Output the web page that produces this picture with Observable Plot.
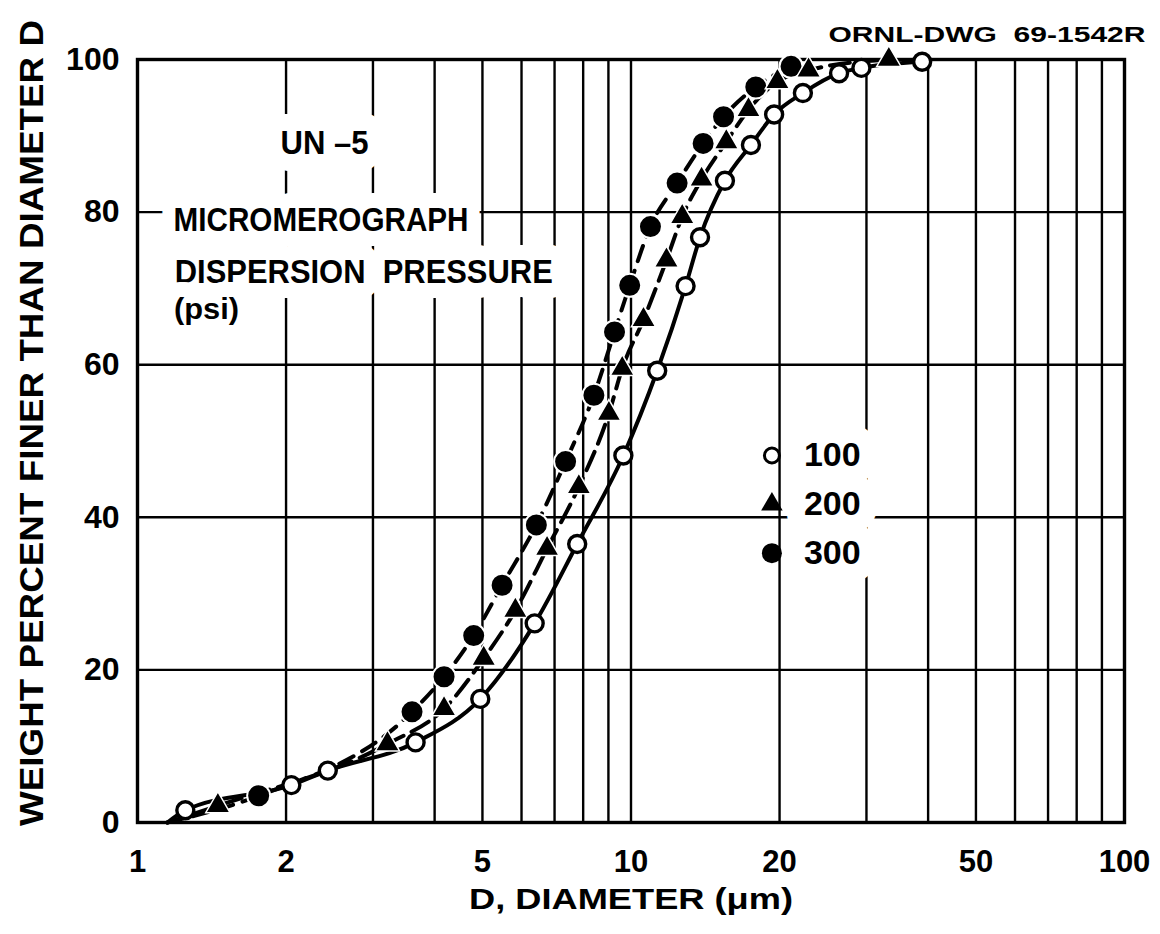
<!DOCTYPE html>
<html><head><meta charset="utf-8">
<script src="https://cdn.jsdelivr.net/npm/d3@7"></script>
<script src="https://cdn.jsdelivr.net/npm/@observablehq/plot@0.6"></script>
<style>html,body{margin:0;padding:0;background:#fff}</style>
</head><body><div id="chart"></div>
<script>
// ---- data ----
const diam100 = [1.25, 2.05, 2.43, 3.66, 4.95, 6.38, 7.78, 9.65, 11.3, 12.9, 13.8, 15.5, 17.5, 19.5, 22.3, 26.4, 29.3, 38.9];
const pct100  = [1.6, 4.9, 6.8, 10.5, 16.2, 26.1, 36.5, 48.1, 59.2, 70.3, 76.7, 84.1, 88.8, 92.8, 95.6, 98.2, 98.9, 99.7];
const diam200 = [1.455, 3.21, 4.18, 5.03, 5.83, 6.76, 7.84, 9.02, 9.6, 10.6, 11.8, 12.7, 13.9, 15.6, 17.3, 19.8, 22.9, 33.3];
const pct200  = [2.2, 10.3, 14.9, 21.5, 27.8, 35.9, 44.0, 53.6, 59.5, 65.9, 73.7, 79.4, 84.3, 89.2, 93.4, 97.1, 98.6, 100];
const diam300 = [1.76, 3.60, 4.18, 4.80, 5.48, 6.43, 7.37, 8.41, 9.26, 9.94, 10.95, 12.4, 14.0, 15.4, 17.9, 21.1];
const pct300  = [3.5, 14.5, 19.1, 24.5, 31.1, 39.0, 47.3, 56.0, 64.3, 70.4, 78.1, 83.8, 89.0, 92.5, 96.4, 99.1];
const curveOrigin = {d: 1.15, p: 0};

const xGridValues = [1,2,3,4,5,6,7,8,9,10,20,30,40,50,60,70,80,90,100];
const yGridValues = [0,20,40,60,80,100];
const xTickLabels = [1,2,5,10,20,50,100];
const yTickLabels = [0,20,40,60,80,100];
const legendLabels = ["100","200","300"];

const xTitle = "D, DIAMETER (\u03bcm)";
const yTitle = "WEIGHT PERCENT FINER THAN DIAMETER D";
const drawingNo = "ORNL-DWG  69-1542R";
const noteSample = "UN \u20135";
const noteLines = ["MICROMEROGRAPH", "DISPERSION  PRESSURE", "(psi)"];

// ---- tables ----
const toRows = (ds, ps) => ds.map((d, i) => ({d, p: ps[i]}));
const s100 = toRows(diam100, pct100);
const s200 = toRows(diam200, pct200);
const s300 = toRows(diam300, pct300);
const legendRows = legendLabels.map((label, i) => ({label, i}));

const FONT = "Liberation Sans, Arial, sans-serif";
const halo = {stroke: "white", paintOrder: "stroke", strokeLinejoin: "round", fill: "black", fontWeight: "bold"};

const legendX = 19.3;
const legendY = i => 48.1 - 6.4 * i;

const chart = Plot.plot({
  width: 1160, height: 934,
  marginLeft: 137, marginRight: 36, marginTop: 59, marginBottom: 112,
  x: {type: "log", domain: [1, 100], axis: null},
  y: {domain: [0, 100], axis: null},
  style: {fontFamily: FONT, background: "#fff", color: "#000", overflow: "visible"},
  marks: [
    Plot.ruleX(xGridValues, {stroke: "#000", strokeWidth: 2.4}),
    Plot.ruleY(yGridValues, {stroke: "#000", strokeWidth: 2.4}),
    Plot.frame({stroke: "#000", strokeWidth: 3.4}),

    // annotations (white halo breaks grid lines like the original lettering boxes)
    Plot.text([noteSample], {x: 1.949, y: 89.1, text: d => d, textAnchor: "start", fontSize: 34, className: "t-un5", ...halo, strokeWidth: 34}),
    Plot.text([noteLines[0]], {x: 1.183, y: 78.9, text: d => d, textAnchor: "start", fontSize: 34, className: "t-micro", ...halo, strokeWidth: 30}),
    Plot.text([noteLines[1]], {x: 1.19, y: 72.1, text: d => d, textAnchor: "start", fontSize: 34, className: "t-disp", ...halo, strokeWidth: 30}),
    Plot.text([noteLines[2]], {x: 1.186, y: 67.2, text: d => d, textAnchor: "start", fontSize: 30, className: "t-psi", ...halo, strokeWidth: 30}),

    // legend
    Plot.text(legendRows, {x: legendX, y: d => legendY(d.i), text: d => d.label, textAnchor: "start", dx: 32, fontSize: 34, ...halo, strokeWidth: 36}),
    Plot.dot([legendRows[0]], {x: legendX, y: d => legendY(d.i), r: 7.5, fill: "white", stroke: "black", strokeWidth: 3}),
    Plot.dot([legendRows[1]], {x: legendX, y: d => legendY(d.i), r: 8, symbol: "triangle", fill: "black"}),
    Plot.dot([legendRows[2]], {x: legendX, y: d => legendY(d.i), r: 10, fill: "black"}),

    // curves
    Plot.line([curveOrigin, ...s100], {x: "d", y: "p", curve: "monotone-x", stroke: "black", strokeWidth: 4}),
    Plot.line([curveOrigin, ...s200], {x: "d", y: "p", curve: "monotone-x", stroke: "black", strokeWidth: 4, strokeDasharray: "20,9"}),
    Plot.line([curveOrigin, ...s300], {x: "d", y: "p", curve: "monotone-x", stroke: "black", strokeWidth: 4, strokeDasharray: "16,10"}),

    // markers
    Plot.dot(s300, {x: "d", y: "p", r: 11.5, fill: "black", stroke: "white", strokeWidth: 2}),
    Plot.dot(s200, {x: "d", y: "p", r: 9, symbol: "triangle", fill: "black", stroke: "white", strokeWidth: 1.5}),
    Plot.dot(s100, {x: "d", y: "p", r: 8.5, fill: "white", stroke: "black", strokeWidth: 3.4}),

    // axes text
    Plot.text(xTickLabels, {x: d => d, y: 0, dy: 40, text: d => String(d), fontSize: 31, fontWeight: "bold", fill: "black"}),
    Plot.text(yTickLabels, {y: d => d, frameAnchor: "left", dx: -18, textAnchor: "end", text: d => String(d), fontSize: 32, fontWeight: "bold", fill: "black"}),
    Plot.text([xTitle], {frameAnchor: "bottom", dy: 86, text: d => d, fontSize: 30, fontWeight: "bold", fill: "black", className: "t-xt"}),
    Plot.text([yTitle], {frameAnchor: "left", dx: -105, dy: 385, rotate: -90, textAnchor: "start", text: d => d, fontSize: 34, fontWeight: "bold", fill: "black", className: "t-yt"}),
    Plot.text([drawingNo], {frameAnchor: "top-right", dx: 21, dy: -33, textAnchor: "end", text: d => d, fontSize: 22, fontWeight: "bold", fill: "black", className: "t-dwg"})
  ]
});

// fit the condensed lettering widths of the original drawing
const fit = {"t-un5": 88, "t-micro": 295, "t-disp": 378, "t-psi": 65, "t-xt": 324, "t-yt": 806, "t-dwg": 317};
const svg = d3.select(chart);
for (const [cls, len] of Object.entries(fit)) {
  svg.selectAll(`.${cls} text`).attr("textLength", len).attr("lengthAdjust", "spacingAndGlyphs");
}
document.getElementById("chart").append(chart);
</script>
</body></html>
